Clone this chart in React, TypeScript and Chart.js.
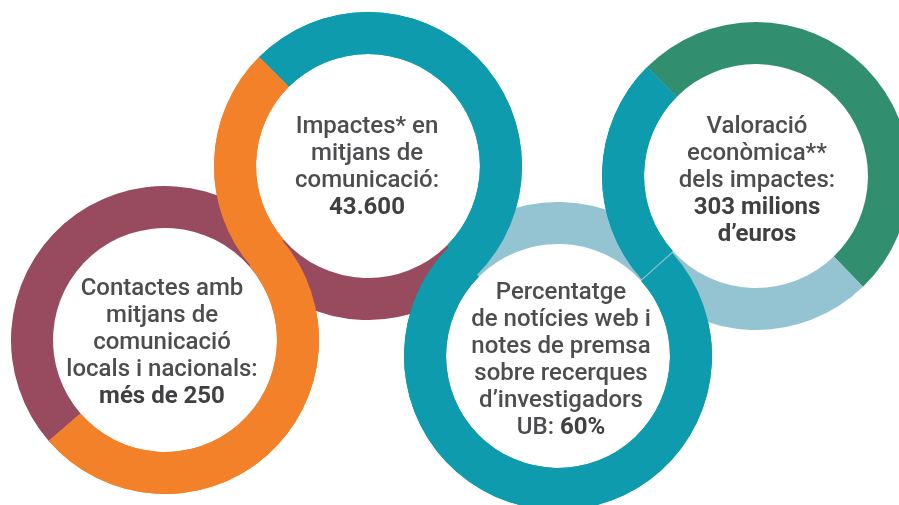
import React, { useEffect, useRef } from "react";
import { Chart, registerables } from "chart.js";

Chart.register(...registerables);

// ---- colours ----
const ORANGE = "#F2812A";
const MAROON = "#984A5F";
const TEAL = "#0E9BAE";
const LIGHT_BLUE = "#94C4D2";
const GREEN = "#318F6F";
const TOP_COLORS = [ORANGE, TEAL];

// ---- data: arc length (degrees) of each coloured segment of every ring ----
const ring1Labels = ["taronja", "granat"];
const ring1Arcs = [180, 180];
const ring1Colors = [ORANGE, MAROON];
const ring1Start = 49;

const ring2Labels = ["blau verd", "granat", "taronja"];
const ring2Arcs = [180, 94, 86];
const ring2Colors = [TEAL, MAROON, ORANGE];
const ring2Start = 315;

const ring3Labels = ["blau clar", "blau verd"];
const ring3Arcs = [93, 267];
const ring3Colors = [LIGHT_BLUE, TEAL];
const ring3Start = 315;

const ring4Labels = ["verd", "blau clar", "blau verd"];
const ring4Arcs = [181, 92, 87];
const ring4Colors = [GREEN, LIGHT_BLUE, TEAL];
const ring4Start = 315;

// ---- texts ----
const ring1Text = ["Contactes amb", "mitjans de", "comunicació", "locals i nacionals:"];
const ring1Bold = ["més de 250"];
const ring2Text = ["Impactes* en", "mitjans de", "comunicació:"];
const ring2Bold = ["43.600"];
const ring3Text = ["Percentatge", "de notícies web i", "notes de premsa", "sobre recerques", "d’investigadors"];
const ring3LastPlain = "UB: ";
const ring3LastBold = "60%";
const ring4Text = ["Valoració", "econòmica**", "dels impactes:"];
const ring4Bold = ["303 milions", "d’euros"];

// ---- layout ----
const OUTER_R = 154;
const CUTOUT = "72.7%";

type RingDef = {
  cx: number;
  cy: number;
  labels: string[];
  arcs: number[];
  colors: string[];
  start: number;
};

const RINGS: RingDef[] = [
  { cx: 165, cy: 340, labels: ring1Labels, arcs: ring1Arcs, colors: ring1Colors, start: ring1Start },
  { cx: 368, cy: 166, labels: ring2Labels, arcs: ring2Arcs, colors: ring2Colors, start: ring2Start },
  { cx: 558, cy: 356, labels: ring3Labels, arcs: ring3Arcs, colors: ring3Colors, start: ring3Start },
  { cx: 756, cy: 176, labels: ring4Labels, arcs: ring4Arcs, colors: ring4Colors, start: ring4Start },
];

function Ring({ ring, top, z }: { ring: RingDef; top: boolean; z: number }) {
  const ref = useRef<HTMLCanvasElement | null>(null);
  useEffect(() => {
    if (!ref.current) return;
    const colors = ring.colors.map((c) =>
      top ? (TOP_COLORS.includes(c) ? c : "rgba(0,0,0,0)") : c
    );
    const chart = new Chart(ref.current, {
      type: "doughnut",
      data: {
        labels: ring.labels,
        datasets: [
          {
            data: ring.arcs,
            backgroundColor: colors,
            borderWidth: 0,
          },
        ],
      },
      options: {
        responsive: false,
        animation: false,
        events: [],
        cutout: CUTOUT,
        rotation: ring.start,
        layout: { padding: 0 },
        plugins: { legend: { display: false }, tooltip: { enabled: false } },
      },
    });
    return () => chart.destroy();
  }, [ring, top]);
  const size = OUTER_R * 2;
  return (
    <canvas
      ref={ref}
      width={size}
      height={size}
      style={{
        position: "absolute",
        left: ring.cx - OUTER_R,
        top: ring.cy - OUTER_R,
        width: size,
        height: size,
        zIndex: z,
      }}
    />
  );
}

const textStyle: React.CSSProperties = {
  position: "absolute",
  transform: "translate(-50%, -50%)",
  textAlign: "center",
  whiteSpace: "nowrap",
  fontFamily: "Roboto, 'Noto Sans', sans-serif",
  fontSize: 24,
  fontWeight: 500,
  lineHeight: "27px",
  color: "#4D4D4F",
  zIndex: 20,
};

function Label({ x, y, children }: { x: number; y: number; children: React.ReactNode }) {
  return <div style={{ ...textStyle, left: x, top: y }}>{children}</div>;
}

const B = ({ children }: { children: React.ReactNode }) => (
  <span style={{ fontWeight: 700, color: "#404042" }}>{children}</span>
);

export default function App() {
  return (
    <div
      style={{
        position: "fixed",
        left: 0,
        top: 0,
        width: 899,
        height: 505,
        overflow: "hidden",
        background: "#ffffff",
      }}
    >
      {RINGS.map((r, i) => (
        <Ring key={"b" + i} ring={r} top={false} z={1 + i} />
      ))}
      {RINGS.map((r, i) => (
        <Ring key={"t" + i} ring={r} top={true} z={10 + i} />
      ))}
      <Label x={162} y={341}>
        {ring1Text.map((t) => (
          <div key={t}>{t}</div>
        ))}
        {ring1Bold.map((t) => (
          <div key={t}>
            <B>{t}</B>
          </div>
        ))}
      </Label>
      <Label x={367} y={166}>
        {ring2Text.map((t) => (
          <div key={t}>{t}</div>
        ))}
        {ring2Bold.map((t) => (
          <div key={t}>
            <B>{t}</B>
          </div>
        ))}
      </Label>
      <Label x={561} y={359}>
        {ring3Text.map((t) => (
          <div key={t}>{t}</div>
        ))}
        <div>
          {ring3LastPlain}
          <B>{ring3LastBold}</B>
        </div>
      </Label>
      <Label x={757} y={179}>
        {ring4Text.map((t) => (
          <div key={t}>{t}</div>
        ))}
        {ring4Bold.map((t) => (
          <div key={t}>
            <B>{t}</B>
          </div>
        ))}
      </Label>
    </div>
  );
}
